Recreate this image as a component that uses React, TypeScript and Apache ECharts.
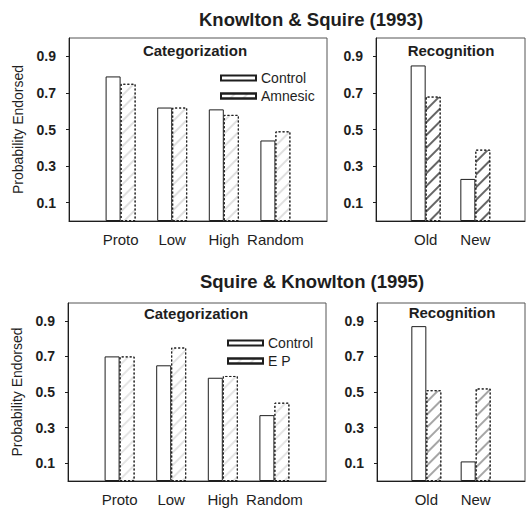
import React, { useEffect, useRef } from "react";
import * as echarts from "echarts";

const categoriesCat = ["Proto", "Low", "High", "Random"];
const categoriesRec = ["Old", "New"];
const yTicks = [0.1, 0.3, 0.5, 0.7, 0.9];

const k93CatControl = [0.79, 0.62, 0.61, 0.44];
const k93CatAmnesic = [0.75, 0.62, 0.58, 0.49];
const k93RecControl = [0.85, 0.23];
const k93RecAmnesic = [0.68, 0.39];

const s95CatControl = [0.7, 0.65, 0.58, 0.37];
const s95CatEP = [0.7, 0.75, 0.59, 0.44];
const s95RecControl = [0.87, 0.11];
const s95RecEP = [0.51, 0.52];

const FONT = "'Liberation Sans', Arial, Helvetica, sans-serif";
const INK = "#1e1e1e";

const pad = (arr: any[], v: any) => [v, ...arr, v];

export default function App() {
  const ref = useRef<HTMLDivElement>(null);
  useEffect(() => {
    document.body.style.margin = "0";
    const chart = echarts.init(ref.current!, null, { renderer: "svg" });

    const grids = [
      { left: 69, top: 38, width: 258, height: 183 },
      { left: 376, top: 38, width: 153, height: 183 },
      { left: 68, top: 303, width: 258, height: 178 },
      { left: 377, top: 303, width: 152, height: 178 },
    ].map((g) => ({ ...g, show: true, borderColor: "#555", borderWidth: 1, backgroundColor: "transparent" }));

    const xAxes = [
      categoriesCat, categoriesRec, categoriesCat, categoriesRec,
    ].map((cats, i) => ({
      type: "category",
      gridIndex: i,
      data: pad(cats, ""),
      boundaryGap: false,
      axisLine: { show: true, lineStyle: { color: INK, width: 1 } },
      axisTick: { show: false },
      axisLabel: { color: INK, fontFamily: FONT, fontSize: 15, margin: 11, interval: 0 },
      splitLine: { show: false },
    }));

    const yAxes = [0, 1, 2, 3].map((i) => ({
      type: "value",
      gridIndex: i,
      min: 0,
      max: 1,
      name: i % 2 === 0 ? "Probability Endorsed" : "",
      nameLocation: "middle",
      nameGap: 44,
      nameTextStyle: { color: INK, fontFamily: FONT, fontSize: 14 },
      axisLine: { show: true, lineStyle: { color: INK, width: 1 } },
      axisTick: { show: true, customValues: yTicks, length: 3, lineStyle: { color: INK } },
      axisLabel: {
        customValues: yTicks,
        color: INK,
        fontFamily: FONT,
        fontSize: 14,
        fontWeight: "bold",
        margin: 13,
        formatter: (v: number) => v.toFixed(1),
      },
      splitLine: { show: false },
    }));

    const controlStyle = { color: "#fff", borderColor: INK, borderWidth: 1 };
    const hatchStyle = (alpha: number) => ({
      color: "#fff",
      borderColor: INK,
      borderWidth: 1,
      borderType: [2, 2],
      decal: {
        symbol: "rect",
        symbolSize: 1,
        dashArrayX: [1, 0],
        dashArrayY: [1.2, 7],
        rotation: -Math.PI / 4,
        color: `rgba(0,0,0,${alpha})`,
        backgroundColor: "#fff",
      },
    });

    const mk = (name: string, data: number[], idx: number, style: any) => ({
      name,
      type: "bar",
      xAxisIndex: idx,
      yAxisIndex: idx,
      data: pad(data, "-"),
      barWidth: 15,
      barGap: "0%",
      itemStyle: style,
      emphasis: { disabled: true },
    });

    const series = [
      mk("Control", k93CatControl, 0, controlStyle),
      mk("Amnesic", k93CatAmnesic, 0, hatchStyle(0.12)),
      mk("Control", k93RecControl, 1, controlStyle),
      mk("Amnesic", k93RecAmnesic, 1, hatchStyle(0.6)),
      mk("Control", s95CatControl, 2, controlStyle),
      mk("E P", s95CatEP, 2, hatchStyle(0.1)),
      mk("Control", s95RecControl, 3, controlStyle),
      mk("E P", s95RecEP, 3, hatchStyle(0.35)),
    ];

    const legendBase = {
      orient: "vertical",
      itemWidth: 35,
      itemHeight: 5,
      itemGap: 4,
      icon: "rect",
      selectedMode: false,
      textStyle: { color: INK, fontFamily: FONT, fontSize: 14 },
    };

    const txt = (text: string, x: number, y: number, size: number, bold = true) => ({
      type: "text",
      x,
      y,
      silent: true,
      style: {
        text,
        fill: INK,
        font: `${bold ? "bold " : ""}${size}px ${FONT}`,
        align: "center",
        verticalAlign: "middle",
      },
    });

    chart.setOption({
      animation: false,
      grid: grids,
      xAxis: xAxes,
      yAxis: yAxes,
      series,
      legend: [
        { ...legendBase, left: 215, top: 66, data: ["Control", "Amnesic"] },
        { ...legendBase, left: 222, top: 331, data: ["Control", "E P"] },
      ],
      graphic: [
        txt("Knowlton & Squire (1993)", 311, 19, 18.5),
        txt("Squire & Knowlton (1995)", 312, 281, 18.5),
        txt("Categorization", 195, 50, 15),
        txt("Recognition", 451, 50, 15),
        txt("Categorization", 196, 313, 15),
        txt("Recognition", 452, 312, 15),
      ],
    });
    return () => chart.dispose();
  }, []);
  return (
    <div
      ref={ref}
      style={{ position: "absolute", left: 0, top: 0, width: 528, height: 510, background: "#fff" }}
    />
  );
}
